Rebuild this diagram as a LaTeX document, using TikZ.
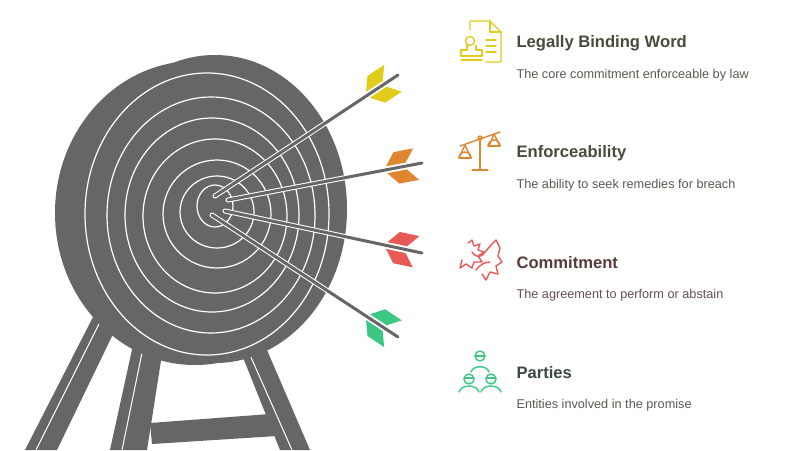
\documentclass[tikz,border=0pt]{standalone}
\usepackage{fontspec}
\setmainfont{Liberation Sans}
\begin{document}
\begin{tikzpicture}[x=1pt,y=-1pt,
  ring/.style={draw=white,line width=1.2pt},
  shaft/.style={draw=white,line width=5pt,line cap=round},
  shaftin/.style={draw=tg,line width=3pt,line cap=round},
  ttl/.style={anchor=west,font=\bfseries\fontsize{16.6}{18}\selectfont},
  dsc/.style={anchor=west,font=\fontsize{12.7}{14}\selectfont,text=dtext},
  ic/.style={line width=1.4pt,line cap=round,line join=round}]
\definecolor{tg}{HTML}{666666}
\definecolor{cy}{HTML}{E2CC1A}
\definecolor{co}{HTML}{E08530}
\definecolor{cr}{HTML}{E85A55}
\definecolor{cgr}{HTML}{3CC882}
\definecolor{dtext}{HTML}{5A5A50}
\useasboundingbox[fill=white] (0,0) rectangle (800,450);
% legs
\fill[tg] (93,317) -- (115,330) -- (57,450) -- (25,450) -- cycle;
\draw[white,line width=1pt] (100,322) -- (36,450);
\fill[tg] (133,345) -- (163,348) -- (147,450) -- (110,450) -- cycle;
\draw[white,line width=1pt] (143,348) -- (122,450);
\fill[tg] (240,350) -- (267,350) -- (310,450) -- (280,450) -- cycle;
\draw[white,line width=1pt] (250,355) -- (292,450);
\fill[tg] (150,423) -- (270,414) -- (277,436) -- (152,444) -- cycle;
% target
\fill[tg] (195,213) ellipse [x radius=140,y radius=152];
\fill[tg] (215,209) ellipse [x radius=132,y radius=154];
\draw[ring] (207,214) ellipse [x radius=122,y radius=141];
\draw[ring] (211,215) ellipse [x radius=104,y radius=118];
\draw[ring] (212,215) ellipse [x radius=87,y radius=97];
\draw[ring] (215,216) ellipse [x radius=72,y radius=77];
\draw[ring] (217,214) ellipse [x radius=54,y radius=54];
\draw[ring] (217,212) ellipse [x radius=37,y radius=36];
\draw[ring] (215,206) ellipse [x radius=18,y radius=21];
% arrows
\coordinate (ys) at (215,196); \coordinate (ye) at (398,75);
\coordinate (os) at (228,200); \coordinate (oe) at (422,163);
\coordinate (rs) at (225,211); \coordinate (re) at (422,253);
\coordinate (gs) at (212,215); \coordinate (ge) at (398,337);
\foreach \s/\e/\c/\a in {ys/ye/cy/33.3,os/oe/co/10.8,rs/re/cr/-12,gs/ge/cgr/-33.5}{
  \draw[shaft] (\s) -- (\e);
  \draw[shaftin] (\s) -- (\e);
  \begin{scope}[shift={(\e)},rotate=\a]
    \fill[\c] (-36,3.5) -- (-16,3.5) -- (-6,16) -- (-26,16) -- cycle;
    \fill[\c] (-36,-3.5) -- (-16,-3.5) -- (-6,-16) -- (-26,-16) -- cycle;
  \end{scope}
}
% icons
\begin{scope}[ic,draw=cy]
  \draw (470,30) -- (470,21) -- (490,21) -- (501,32) -- (501,62) -- (486,62);
  \draw (490,21) -- (490,32) -- (501,32);
  \draw (470,41) circle (4.5);
  \draw (467,45.5) -- (467,50) -- (461,50) -- (461,56) -- (482,56) -- (482,50) -- (476,50) -- (476,45.5);
  \draw (461,60) -- (482,60);
  \draw (486,40) -- (496,40) (486,46) -- (496,46) (486,52) -- (496,52);
\end{scope}
\begin{scope}[ic,draw=co]
  \draw (480,138) -- (480,170) (472,170) -- (488,170);
  \draw (460,146) -- (500,132);
  \draw (480,138) circle (2);
  \draw (465,145) -- (459,158) (465,145) -- (471,158);
  \draw (459,158) arc[start angle=180,end angle=360,radius=6];
  \draw (459,158) -- (471,158);
  \draw (494,134) -- (489,146) (494,134) -- (500,146);
  \draw (488,146) arc[start angle=180,end angle=360,radius=6];
  \draw (488,146) -- (500,146);
\end{scope}
\begin{scope}[ic,draw=cr]
  \draw (468,243) -- (472,240) -- (474,246) -- (480,244) -- (478,250) -- (484,252) -- (478,256) -- (482,262) -- (474,262) -- (472,268) -- (466,264) -- (460,268) -- (462,260);
  \draw (472,252) .. controls (475,258) and (482,258) .. (485,252) -- (492,244);
  \draw (492,244) -- (496,240) -- (500,248) -- (498,256) -- (502,262) -- (496,266) -- (498,274) -- (490,272) -- (486,280) -- (482,274);
  \draw (476,270) .. controls (480,264) and (486,262) .. (490,262);
\end{scope}
\begin{scope}[ic,draw=cgr]
  \draw (480,356) circle (5);
  \draw (475,356) -- (485,356);
  \draw (471,372) .. controls (473,365) and (487,365) .. (489,372);
  \draw (469,379) circle (5) (491,379) circle (5);
  \draw (464,378) -- (474,378) (486,378) -- (496,378);
  \draw (459,392) .. controls (461,384) and (477,384) .. (479,392);
  \draw (481,392) .. controls (483,384) and (499,384) .. (501,392);
\end{scope}
% texts
\node[ttl,text={rgb,255:red,74;green,74;blue,58}] (t1) at (513,43) {Legally Binding Word};
\node[dsc] (d1) at (513,75) {The core commitment enforceable by law};
\node[ttl,text={rgb,255:red,74;green,74;blue,58}] (t2) at (513,153) {Enforceability};
\node[dsc] (d2) at (513,185) {The ability to seek remedies for breach};
\node[ttl,text={rgb,255:red,90;green,58;blue,58}] (t3) at (513,263) {Commitment};
\node[dsc,text={rgb,255:red,100;green,80;blue,80}] (d3) at (513,295) {The agreement to perform or abstain};
\node[ttl,text={rgb,255:red,58;green,74;blue,64}] (t4) at (513,373) {Parties};
\node[dsc] (d4) at (513,405) {Entities involved in the promise};
\end{tikzpicture}
\end{document}
